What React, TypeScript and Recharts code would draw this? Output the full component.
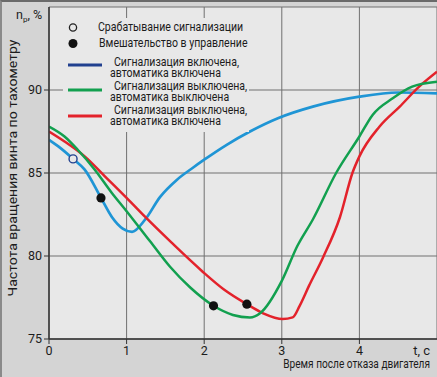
import React from 'react';
import {
  ComposedChart, Line, Scatter, XAxis, YAxis, CartesianGrid, Legend,
} from 'recharts';

const FONT = "Roboto, 'DejaVu Sans Condensed', sans-serif";

// X ticks / Y ticks
const xTicks = [0, 1, 2, 3, 4];
const yTicks = [75, 80, 85, 90];

// Blue: signalling on, automation on
const blueT = [0, 0.12, 0.31, 0.46, 0.67, 0.81, 0.95, 1.07, 1.24, 1.43, 1.65, 1.85, 2.0, 2.29, 2.59, 2.95, 3.4, 4.0, 4.5, 5.0];
const blueV = [87.0, 86.6, 85.85, 85.2, 83.5, 82.35, 81.65, 81.45, 82.2, 83.55, 84.6, 85.3, 85.8, 86.7, 87.5, 88.3, 89.0, 89.6, 89.85, 89.8];

// Green: signalling off, automation off
const greenT = [0, 0.2, 0.37, 0.59, 0.81, 1.0, 1.3, 1.56, 1.82, 2.12, 2.37, 2.59, 2.72, 3.0, 3.2, 3.4, 3.7, 4.0, 4.17, 4.43, 4.68, 5.0];
const greenV = [87.8, 87.2, 86.4, 85.2, 83.8, 82.7, 80.9, 79.35, 78.1, 77.0, 76.45, 76.3, 76.55, 78.5, 80.6, 82.2, 85.0, 87.2, 88.5, 89.5, 90.2, 90.5];

// Red: signalling off, automation on
const redT = [0, 0.2, 0.46, 0.72, 1.0, 1.24, 1.58, 1.97, 2.25, 2.55, 2.76, 3.01, 3.14, 3.23, 3.35, 3.53, 3.75, 3.91, 4.0, 4.26, 4.52, 4.77, 5.0];
const redV = [87.5, 86.9, 86.0, 84.8, 83.5, 82.35, 80.8, 79.1, 78.0, 77.1, 76.55, 76.2, 76.3, 77.0, 78.2, 79.9, 82.35, 85.0, 86.0, 87.8, 89.0, 90.2, 91.1];

// Markers
const alarmT = [0.31];
const alarmV = [85.85];
const interventionT = [0.67, 2.12, 2.55];
const interventionV = [83.5, 77.0, 77.1];

const legendLabels = [
  'Срабатывание сигнализации',
  'Вмешательство в управление',
  ['Сигнализация включена,', 'автоматика включена'],
  ['Сигнализация выключена,', 'автоматика выключена'],
  ['Сигнализация выключена,', 'автоматика включена'],
];

const yLabel = 'Частота вращения винта по тахометру';
const xUnit = 't, c';
const xLabel = 'Время после отказа двигателя';

const zip = (ts: number[], vs: number[]) => ts.map((t, i) => ({ t, v: vs[i] }));
const blueData = zip(blueT, blueV);
const greenData = zip(greenT, greenV);
const redData = zip(redT, redV);
const alarmData = zip(alarmT, alarmV);
const interventionData = zip(interventionT, interventionV);

const BLUE = '#1f95d5';
const BLUE_LEG = '#21408f';
const GREEN = '#12a04f';
const RED = '#e3222b';
const TXT = '#1c1c1c';

const SX = 0.88;

const T = (p: { x: number; y: number; children: string }) => (
  <text transform={`translate(${p.x} ${p.y}) scale(${SX} 1)`} x={0} y={0} dominantBaseline="central"
    fontFamily={FONT} fontSize={12} fill={TXT}>{p.children}</text>
);

// two-line legend entry as a single text element
const T2 = (p: { x: number; y: number; lines: string[] }) => (
  <text transform={`translate(${p.x} ${p.y}) scale(${SX} 1)`} x={0} y={0}
    fontFamily={FONT} fontSize={12} fill={TXT}>
    <tspan x={4 / SX} y={4}>{p.lines[0]}</tspan>
    <tspan x={0} y={15.5}>{p.lines[1]}</tspan>
  </text>
);

const LegendBox = () => (
  <svg width={186} height={114} style={{ display: 'block', overflow: 'visible' }}>
    <rect x={0} y={0} width={186} height={114} fill="#e8e8e8" />
    <circle cx={10} cy={9.5} r={3.6} fill="none" stroke="#222" strokeWidth={1.3} />
    <T x={35} y={9.5}>{legendLabels[0] as string}</T>
    <circle cx={10} cy={25.5} r={4.5} fill="#111" />
    <T x={36} y={25.5}>{legendLabels[1] as string}</T>
    <line x1={5} x2={39} y1={47} y2={47} stroke={BLUE_LEG} strokeWidth={3} />
    <T2 x={47} y={44} lines={legendLabels[2] as string[]} />
    <line x1={5} x2={39} y1={72} y2={72} stroke={GREEN} strokeWidth={3} />
    <T2 x={47} y={67.5} lines={legendLabels[3] as string[]} />
    <line x1={5} x2={39} y1={98} y2={98} stroke={RED} strokeWidth={3} />
    <T2 x={47} y={91.5} lines={legendLabels[4] as string[]} />
  </svg>
);

const YLabel = () => {
  const cx = 12.5;
  const cy = 168;
  return (
    <g>
      <text x={cx} y={cy} transform={`rotate(-90 ${cx} ${cy})`} textAnchor="middle" dominantBaseline="central"
        textLength={257} lengthAdjust="spacingAndGlyphs"
        fontFamily={FONT} fontSize={13} fill={TXT}>{yLabel}</text>
      <text x={16} y={19} fontFamily={FONT} fontSize={12.5} fill={TXT}>
        n<tspan fontSize={8} dy={3}>р</tspan><tspan dy={-3}>, %</tspan>
      </text>
    </g>
  );
};

const XLabel = (props: any) => {
  const vb = props.viewBox || { x: 0, y: 0, width: 0, height: 0 };
  const right = vb.x + vb.width - 7;
  return (
    <g>
      <text x={right} y={350} textAnchor="end" dominantBaseline="central"
        fontFamily={FONT} fontSize={13} fill={TXT}>{xUnit}</text>
      <text transform={`translate(${right} 363.5) scale(0.81 1)`} x={0} y={0} textAnchor="end" dominantBaseline="central"
        fontFamily={FONT} fontSize={12.5} fill={TXT}>{xLabel}</text>
    </g>
  );
};

export default function App() {
  const tickStyle = { fill: TXT, fontSize: 12.5, fontFamily: FONT };
  return (
    <div style={{ position: 'fixed', left: 0, top: 0, width: 437, height: 377, background: '#d4d4d4', overflow: 'hidden' }}>
      <ComposedChart width={437} height={377} margin={{ top: 7, right: 0, left: 0, bottom: 0 }}>
        <CartesianGrid fill="#e8e8e8" stroke="#707070" strokeWidth={1} />
        <XAxis dataKey="t" type="number" domain={[0, 5]} ticks={xTicks} height={38}
          tick={tickStyle} tickSize={5} tickLine={{ stroke: '#333' }} axisLine={{ stroke: '#333', strokeWidth: 1.5 }}
          allowDataOverflow label={<XLabel />} />
        <YAxis type="number" domain={[75, 95]} ticks={yTicks} width={49}
          tick={tickStyle} tickSize={5} tickLine={{ stroke: '#333' }} axisLine={{ stroke: '#333', strokeWidth: 1.5 }}
          allowDataOverflow label={<YLabel />} />
        <Legend layout="horizontal" verticalAlign="middle" align="center" content={<LegendBox />}
          wrapperStyle={{ position: 'absolute', left: 63, top: 18, width: 186, height: 114, margin: 0 }} />
        <Line data={blueData} type="monotone" dataKey="v" stroke={BLUE} strokeWidth={2.7} dot={false} isAnimationActive={false} legendType="none" />
        <Line data={redData} type="monotone" dataKey="v" stroke={RED} strokeWidth={2.5} dot={false} isAnimationActive={false} legendType="none" />
        <Line data={greenData} type="monotone" dataKey="v" stroke={GREEN} strokeWidth={2.5} dot={false} isAnimationActive={false} legendType="none" />
        <Scatter data={alarmData} dataKey="v" isAnimationActive={false} legendType="none"
          shape={(p: any) => <circle cx={p.cx} cy={p.cy} r={4} fill="#e8e8e8" stroke={BLUE_LEG} strokeWidth={1.4} />} />
        <Scatter data={interventionData} dataKey="v" isAnimationActive={false} legendType="none"
          shape={(p: any) => <circle cx={p.cx} cy={p.cy} r={4.6} fill="#111" />} />
      </ComposedChart>
      <div style={{ position: 'absolute', left: 0, top: 0, width: 437, height: 377, boxSizing: 'border-box', borderTop: '2px solid #6a6a6a', borderLeft: '2px solid #8a8a8a', pointerEvents: 'none' }} />
    </div>
  );
}
